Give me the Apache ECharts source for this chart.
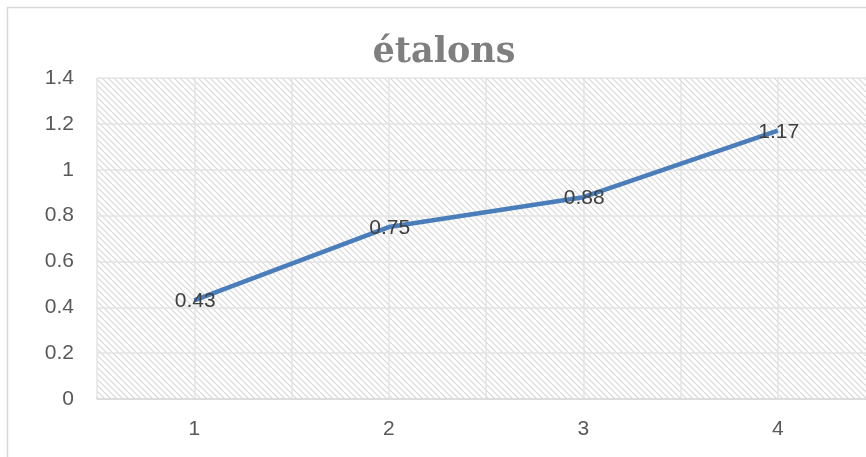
<!DOCTYPE html>
<html><head><meta charset="utf-8">
<script src="https://cdn.jsdelivr.net/npm/echarts@6/dist/echarts.min.js"></script>
<style>html,body{margin:0;padding:0;background:#fff}#c{width:866px;height:457px}</style>
</head><body><div id="c"></div>
<script>
const titleText = 'étalons';
const categories = ['1', '2', '3', '4'];
const values = [0.43, 0.75, 0.88, 1.17];
const yMin = 0, yMax = 1.4, yStep = 0.2;
const gridSlots = ['', '', '', '', '', '', '', ''];

function hatch() {
  const s = 6;
  const cv = document.createElement('canvas');
  cv.width = s; cv.height = s;
  const ctx = cv.getContext('2d');
  ctx.fillStyle = '#ffffff';
  ctx.fillRect(0, 0, s, s);
  ctx.strokeStyle = '#d8d8d8';
  ctx.lineWidth = 1.2;
  ctx.beginPath();
  ctx.moveTo(-1, -1); ctx.lineTo(s + 1, s + 1);
  ctx.moveTo(-1, s - 1); ctx.lineTo(1, s + 1);
  ctx.moveTo(s - 1, -1); ctx.lineTo(s + 1, 1);
  ctx.stroke();
  return { image: cv, repeat: 'repeat' };
}

const chart = echarts.init(document.getElementById('c'), null, { renderer: 'canvas' });
const labelFont = '"Liberation Sans", Arial, sans-serif';
chart.setOption({
  animation: false,
  backgroundColor: '#ffffff',
  title: {
    text: titleText, left: 439, top: 30, textAlign: 'center',
    textStyle: { fontFamily: '"DejaVu Serif", serif', fontWeight: 'bold', fontSize: 35, color: '#7f7f7f' }
  },
  graphic: [{
    type: 'rect', shape: { x: 7.5, y: 7.5, width: 900, height: 500 },
    style: { fill: 'none', stroke: '#d9d9d9', lineWidth: 1.5 }, silent: true, z: 100
  }],
  grid: { left: 97, top: 78, width: 778, bottom: 58, show: true, backgroundColor: hatch(), borderWidth: 0,
    containLabel: false, outerBoundsMode: 'none' },
  xAxis: [{
    type: 'category', data: categories, boundaryGap: true,
    axisLine: { lineStyle: { color: '#d9d9d9', width: 1.5 } },
    axisTick: { show: false },
    splitLine: { show: false },
    axisLabel: { color: '#595959', fontSize: 21, fontFamily: labelFont, margin: 20 }
  }, {
    type: 'category', data: gridSlots, boundaryGap: true, position: 'bottom',
    axisLine: { show: false }, axisTick: { show: false }, axisLabel: { show: false },
    splitLine: { show: true, lineStyle: { color: '#e3e3e3', width: 1.5 } }
  }],
  yAxis: {
    type: 'value', min: yMin, max: yMax, interval: yStep,
    axisLine: { show: false }, axisTick: { show: false },
    splitLine: { lineStyle: { color: '#e3e3e3', width: 1.5 } },
    axisLabel: { color: '#595959', fontSize: 21, fontFamily: labelFont, margin: 23,
      formatter: v => String(Math.round(v * 10) / 10) }
  },
  series: [{
    type: 'line', data: values, xAxisIndex: 0,
    showSymbol: true, symbol: 'circle', symbolSize: 1,
    lineStyle: { color: '#4a7ebb', width: 4.5 },
    itemStyle: { color: 'rgba(0,0,0,0)' },
    label: { show: true, position: 'inside', color: '#404040', opacity: 1, fontSize: 21, fontFamily: labelFont, offset: [1, 1] },
    z: 5
  }]
});
</script></body></html>
